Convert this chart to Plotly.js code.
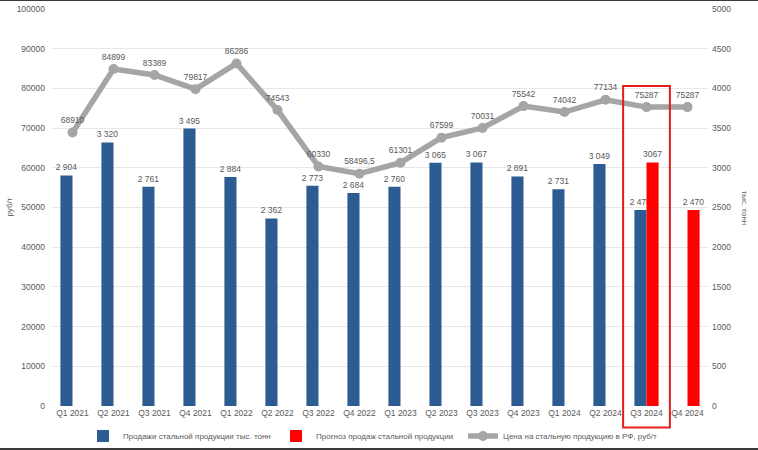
<!DOCTYPE html>
<html><head><meta charset="utf-8">
<script src="https://cdn.plot.ly/plotly-3.0.1.min.js"></script>
<style>
html,body{margin:0;padding:0;background:#fff;}
#chart{width:758px;height:450px;}
.edge{position:absolute;left:0;width:758px;background:#3a3a3a;}
</style></head>
<body>
<div id="chart"></div>
<div class="edge" style="top:0;height:1px;"></div>
<div class="edge" style="top:448px;height:2px;"></div>
<script>
var categories = ["Q1 2021","Q2 2021","Q3 2021","Q4 2021","Q1 2022","Q2 2022","Q3 2022","Q4 2022",
                  "Q1 2023","Q2 2023","Q3 2023","Q4 2023","Q1 2024","Q2 2024","Q3 2024","Q4 2024"];
var sales = [2904,3320,2761,3495,2884,2362,2773,2684,2760,3065,3067,2891,2731,3049,2470,null];
var forecast = [null,null,null,null,null,null,null,null,null,null,null,null,null,null,3067,2470];
var price = [68910,84899,83389,79817,86286,74543,60330,58496.5,61301,67599,70031,75542,74042,77134,75287,75287];

function spaced(v){ if(v===null) return ""; var s=String(v); return s.length>3 ? s.slice(0,s.length-3)+" "+s.slice(-3) : s; }
function plain(v){ if(v===null) return ""; return String(v).replace(".", ","); }

var grayTxt = "#595959";
var fam = "Liberation Sans, Arial, sans-serif";
var fnt = {family:fam, size:8.5, color:grayTxt};
var legFont = {family:fam, size:8, color:grayTxt};

var traces = [
  {type:"bar", name:"Продажи стальной продукции тыс. тонн", x:categories, y:sales,
   marker:{color:"#2c5c91"}, text:sales.map(spaced), textposition:"outside", cliponaxis:false,
   constraintext:"none", textfont:fnt, yaxis:"y", legend:"legend"},
  {type:"bar", name:"Прогноз продаж стальной продукции", x:categories, y:forecast,
   marker:{color:"#ff0000"}, text:forecast.map(function(v,i){return i===14?plain(v):spaced(v);}),
   textposition:"outside", cliponaxis:false, constraintext:"none", textfont:fnt, yaxis:"y", legend:"legend2"},
  {type:"scatter", mode:"lines+markers+text", name:"Цена на стальную продукцию в РФ, руб/т",
   x:categories, y:price, yaxis:"y2", line:{color:"#a5a5a5", width:5.5},
   marker:{color:"#a5a5a5", size:10}, text:price.map(plain), textposition:"top center",
   textfont:fnt, cliponaxis:false, legend:"legend3"}
];

function leg(xpx){
  return {orientation:"h", xref:"container", yref:"container", x:xpx/758, xanchor:"left",
          y:1-436/450, yanchor:"middle", font:legFont, bgcolor:"rgba(0,0,0,0)"};
}

var layout = {
  width:758, height:450,
  margin:{l:52, r:50, t:9, b:44},
  paper_bgcolor:"#fff", plot_bgcolor:"#fff",
  font:fnt,
  barmode:"group", bargap:0.41, bargroupgap:0,
  showlegend:true,
  legend:leg(83), legend2:leg(276), legend3:leg(463),
  xaxis:{type:"category", range:[-0.5,15.5], autorange:false, showgrid:false, zeroline:false,
         showline:false, ticks:"", tickfont:fnt, automargin:false},
  yaxis:{side:"right", range:[0,5000], dtick:500, tickformat:"d", showgrid:true, gridcolor:"#e8e8e8",
         zeroline:false, showline:false, ticks:"", tickfont:fnt, ticklabelstandoff:3, automargin:false},
  yaxis2:{side:"left", overlaying:"y", range:[0,100000], dtick:10000, tickformat:"d", showgrid:false,
          zeroline:false, showline:false, ticks:"", tickfont:fnt, ticklabelstandoff:6, automargin:false},
  annotations:[
    {text:"руб/т", xref:"paper", yref:"paper", x:0, xanchor:"center", xshift:-43, y:0.5,
     textangle:-90, showarrow:false, font:{family:fam, size:8, color:grayTxt}},
    {text:"тыс. тонн", xref:"paper", yref:"paper", x:1.0, xanchor:"center", xshift:36, y:0.5,
     textangle:90, showarrow:false, font:{family:fam, size:8, color:grayTxt}}],
  shapes:[{type:"rect", xref:"x", yref:"paper", x0:13.43, x1:14.57, y0:-0.054, y1:0.806,
           line:{color:"#e41c1c", width:2}, fillcolor:"rgba(0,0,0,0)"}]
};

Plotly.newPlot("chart", traces, layout, {displayModeBar:false, staticPlot:true});
</script>
</body></html>
